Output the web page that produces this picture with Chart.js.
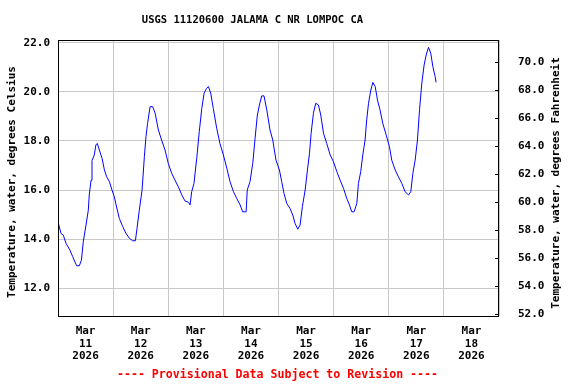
<!DOCTYPE html>
<html>
<head>
<meta charset="utf-8">
<title>USGS 11120600 JALAMA C NR LOMPOC CA</title>
<script src="https://cdn.jsdelivr.net/npm/chart.js@4.4.1/dist/chart.umd.min.js"></script>
<style>
  html, body { margin: 0; padding: 0; background: #ffffff; }
  #grafico-wrap { width: 576px; height: 384px; position: relative; }
</style>
</head>
<body>
<div id="grafico-wrap"><canvas id="grafico"></canvas></div>
<script>
// Hours since Mar 11 2026 00:00 and water temperature (deg C)
const hours = [
  0, 1.3, 2.3, 3.5, 5.2, 6.4, 8.1, 9.3, 10.2, 11.0, 12.2, 13.2, 13.6, 14.4, 14.8, 15.8, 16.5, 17.1, 18.0, 19.2,
  20.2, 21.2, 22.4, 23.5, 24.5, 25.3, 26.7, 28.2, 29.6, 31.1, 32.5, 33.7, 34.4, 35.4, 36.6, 37.6, 38.3, 39.0, 40.1, 41.2,
  42.3, 43.7, 45.1, 46.6, 48.0, 49.5, 50.9, 52.4, 53.9, 55.3, 56.8, 57.5, 58.2, 59.2, 60.4, 61.5, 62.6, 63.6, 64.7, 65.5,
  66.5, 67.6, 69.1, 70.5, 72.0, 73.5, 74.9, 76.4, 77.8, 79.3, 80.4, 81.9, 82.4, 83.6, 84.8, 85.8, 86.8, 87.7, 88.7, 89.7,
  90.9, 92.3, 93.5, 94.9, 96.4, 97.4, 98.4, 99.6, 101.0, 102.2, 103.2, 104.4, 105.4, 106.4, 107.6, 108.6, 109.5, 110.2, 111.2, 112.2,
  113.4, 114.4, 115.6, 117.0, 118.5, 119.9, 121.4, 122.8, 124.3, 125.7, 126.9, 127.9, 128.9, 130.1, 130.8, 131.8, 132.7, 133.7, 134.4, 135.2,
  136.2, 137.1, 138.1, 139.1, 140.2, 141.4, 142.9, 144.3, 145.3, 146.8, 148.2, 149.7, 151.1, 152.6, 153.6, 154.5, 155.5, 156.5, 157.4, 158.4,
  159.4, 160.3, 161.3, 162.3, 163.2, 164.2, 164.6
];
const tempC = [
  14.70, 14.23, 14.16, 13.82, 13.55, 13.28, 12.91, 12.91, 13.14, 13.89, 14.57, 15.18, 15.80, 16.40, 17.20, 17.43, 17.84, 17.90, 17.63, 17.29,
  16.82, 16.54, 16.34, 16.00, 15.73, 15.39, 14.84, 14.50, 14.23, 14.03, 13.93, 13.93, 14.43, 15.18, 16.00, 17.36, 18.18, 18.72, 19.40, 19.40,
  19.13, 18.45, 18.04, 17.63, 17.09, 16.68, 16.41, 16.13, 15.80, 15.55, 15.50, 15.39, 15.93, 16.27, 17.29, 18.38, 19.33, 19.95, 20.15, 20.22,
  19.95, 19.33, 18.52, 17.90, 17.43, 16.89, 16.34, 15.93, 15.66, 15.39, 15.11, 15.11, 16.00, 16.34, 17.09, 18.11, 19.06, 19.47, 19.84, 19.84,
  19.27, 18.45, 18.04, 17.22, 16.82, 16.34, 15.86, 15.45, 15.25, 14.98, 14.64, 14.40, 14.57, 15.32, 16.00, 16.82, 17.50, 18.31, 19.13, 19.54,
  19.47, 19.06, 18.31, 17.90, 17.43, 17.16, 16.75, 16.41, 16.07, 15.66, 15.39, 15.11, 15.11, 15.45, 16.27, 16.75, 17.43, 18.04, 18.86, 19.54,
  20.08, 20.39, 20.22, 19.67, 19.27, 18.72, 18.24, 17.77, 17.22, 16.82, 16.54, 16.27, 15.93, 15.80, 15.93, 16.68, 17.22, 18.04, 19.27, 20.36,
  21.10, 21.51, 21.82, 21.58, 21.03, 20.63, 20.39
];

// Tick labels
const tickMonth = 'Mar';
const tickYear = '2026';
const tickDays = ['11', '12', '13', '14', '15', '16', '17', '18'];
const celsiusTicks = [12, 14, 16, 18, 20, 22];
const fahrenheitTicks = [52, 54, 56, 58, 60, 62, 64, 66, 68, 70];

const tituloGrafico = 'USGS 11120600 JALAMA C NR LOMPOC CA';
const rodapeGrafico = '---- Provisional Data Subject to Revision ----';
const tituloEixoC = 'Temperature, water, degrees Celsius';
const tituloEixoF = 'Temperature, water, degrees Fahrenheit';
const fonteMono = '"DejaVu Sans Mono", "Liberation Mono", monospace';

/**
 * Draws the frame, the inward ticks of the right axis, axis titles, title and footer.
 */
const extrasPlugin = {
    id: 'extras',
    afterDraw(chart) {
        const ctx = chart.ctx;
        const area = chart.chartArea;
        const escalaF = chart.scales.yF;

        ctx.save();
        ctx.strokeStyle = '#000000';
        ctx.lineWidth = 1;
        ctx.strokeRect(Math.round(area.left) + 0.5, Math.round(area.top) + 0.5,
            Math.round(area.right - area.left) - 1, Math.round(area.bottom - area.top));

        // small ticks pointing into the plot on the Fahrenheit side
        ctx.beginPath();
        escalaF.ticks.forEach(t => {
            const y = Math.round(escalaF.getPixelForValue(t.value)) + 0.5;
            ctx.moveTo(area.right - 4, y);
            ctx.lineTo(area.right, y);
        });
        ctx.stroke();

        ctx.textAlign = 'center';
        ctx.textBaseline = 'middle';
        ctx.fillStyle = '#000000';
        ctx.font = 'bold 10.5px ' + fonteMono;
        ctx.fillText(tituloGrafico, 252.5, 20.5);

        // both axis titles read bottom to top
        ctx.font = 'bold 11px ' + fonteMono;
        ctx.save();
        ctx.translate(12, 182);
        ctx.rotate(-Math.PI / 2);
        ctx.fillText(tituloEixoC, 0, 0);
        ctx.restore();
        ctx.save();
        ctx.translate(556, 183);
        ctx.rotate(-Math.PI / 2);
        ctx.fillText(tituloEixoF, 0, 0);
        ctx.restore();

        ctx.fillStyle = '#ff0000';
        ctx.font = 'bold 11.6px ' + fonteMono;
        ctx.fillText(rodapeGrafico, 277.5, 375);
        ctx.restore();
    }
};

function initGrafico() {
    const ctx = document.getElementById('grafico').getContext('2d');
    const pontos = hours.map((h, i) => ({ x: h, y: tempC[i] }));
    const fonteTicks = { family: fonteMono, size: 11, weight: 'bold', lineHeight: 1.15 };

    return new Chart(ctx, {
        type: 'line',
        data: {
            datasets: [{
                data: pontos,
                xAxisID: 'x',
                yAxisID: 'yC',
                borderColor: '#0000ff',
                borderWidth: 1,
                pointRadius: 0,
                fill: false,
                tension: 0
            }]
        },
        options: {
            responsive: true,
            maintainAspectRatio: false,
            animation: false,
            layout: { padding: { top: 40, left: 0, right: 0, bottom: 0 } },
            plugins: {
                legend: { display: false },
                title: { display: false },
                tooltip: { enabled: false }
            },
            scales: {
                x: {
                    type: 'linear',
                    position: 'bottom',
                    min: 0,
                    max: 192,
                    afterBuildTicks: scale => {
                        const lista = [];
                        for (let v = 0; v <= 192; v += 12) lista.push({ value: v });
                        scale.ticks = lista;
                    },
                    afterFit: scale => { scale.height = 68; },
                    border: { display: false },
                    grid: {
                        drawTicks: false,
                        lineWidth: 1,
                        color: c => (c.tick && c.tick.value % 24 === 0) ? '#c8c8c8' : 'rgba(0,0,0,0)'
                    },
                    ticks: {
                        autoSkip: false,
                        maxRotation: 0,
                        padding: 9,
                        color: '#000000',
                        font: fonteTicks,
                        callback: v => {
                            if (v % 24 !== 12) return '';
                            return [tickMonth, tickDays[(v - 12) / 24], tickYear];
                        }
                    }
                },
                yC: {
                    type: 'linear',
                    position: 'left',
                    min: 10.86,
                    max: 22.12,
                    afterBuildTicks: scale => { scale.ticks = celsiusTicks.map(v => ({ value: v })); },
                    afterFit: scale => { scale.width = 58; },
                    border: { display: false },
                    grid: { drawTicks: false, color: '#c8c8c8', lineWidth: 1 },
                    ticks: {
                        padding: 8,
                        color: '#000000',
                        font: fonteTicks,
                        callback: v => v.toFixed(1)
                    }
                },
                yF: {
                    type: 'linear',
                    position: 'right',
                    min: 51.86,
                    max: 71.57,
                    afterBuildTicks: scale => { scale.ticks = fahrenheitTicks.map(v => ({ value: v })); },
                    afterFit: scale => { scale.width = 77; },
                    border: { display: false },
                    grid: { drawTicks: false, drawOnChartArea: false },
                    ticks: {
                        padding: 19,
                        color: '#000000',
                        font: fonteTicks,
                        callback: v => v.toFixed(1)
                    }
                }
            }
        },
        plugins: [extrasPlugin]
    });
}

initGrafico();
</script>
</body>
</html>
